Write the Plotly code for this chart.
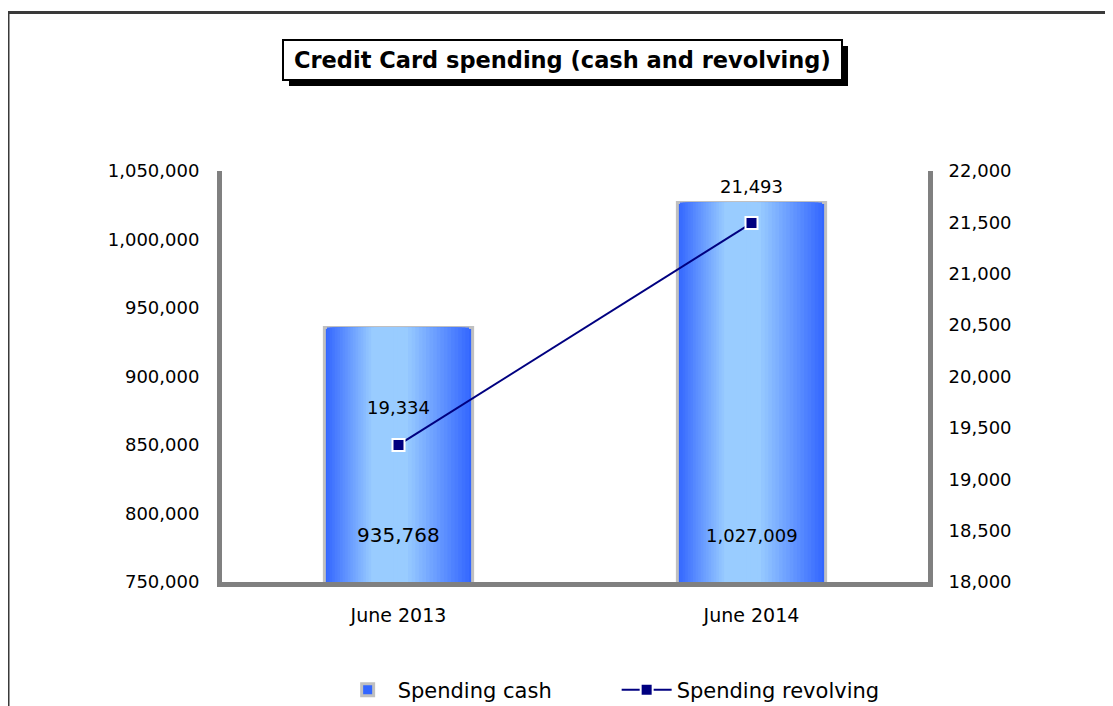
import plotly.graph_objects as go

# ---- data ----
categories = ["June 2013", "June 2014"]
spending_cash = [935768, 1027009]
spending_revolving = [19334, 21493]
left_ticks = [750000, 800000, 850000, 900000, 950000, 1000000, 1050000]
right_ticks = [18000, 18500, 19000, 19500, 20000, 20500, 21000, 21500, 22000]
title_text = "Credit Card spending (cash and revolving)"

FONT = "DejaVu Sans"
EDGE = (51, 102, 255)
CENTER = (153, 204, 255)
BAR_W = 0.42
N_LAYERS = 24
LIGHT_POS = 0.42  # position of lightest band across the bar


def mix(a, b, t):
    return "rgb(%d,%d,%d)" % tuple(round(a[i] + (b[i] - a[i]) * t) for i in range(3))


fig = go.Figure()

# gradient bars: nested overlay bars from outer (dark) to inner (light)
for k in range(N_LAYERS):
    w = BAR_W * (1 - k / N_LAYERS)
    t = min(1.0, (k / N_LAYERS) / 0.75)
    off = -BAR_W / 2 + (BAR_W - w) * LIGHT_POS
    fig.add_trace(go.Bar(
        x=categories, y=spending_cash,
        width=[w] * len(categories), offset=[off] * len(categories),
        marker=dict(color=mix(EDGE, CENTER, t),
                    line=dict(color="#C0C0C0", width=3 if k == 0 else 0)),
        name="Spending cash", showlegend=(k == 0),
        hoverinfo="skip" if k else None,
        yaxis="y",
    ))

fig.add_trace(go.Scatter(
    x=categories, y=spending_revolving, mode="lines+markers",
    name="Spending revolving",
    line=dict(color="#000080", width=2),
    marker=dict(symbol="square", size=12, color="#000080",
                line=dict(color="white", width=2)),
    yaxis="y2",
))

annotations = []
# bar value labels near the base
bar_label_sizes = [20, 18]
for c, v, s in zip(categories, spending_cash, bar_label_sizes):
    annotations.append(dict(x=c, y=left_ticks[0], xref="x", yref="y",
                            text=f"{v:,}", showarrow=False, yanchor="middle",
                            yshift=47, font=dict(family=FONT, size=s, color="black")))
# line value labels above points
for c, v in zip(categories, spending_revolving):
    annotations.append(dict(x=c, y=v, xref="x", yref="y2",
                            text=f"{v:,}", showarrow=False, yanchor="middle",
                            yshift=37, font=dict(family=FONT, size=18, color="black")))

# title text (box and shadow drawn as shapes)
annotations.append(dict(text=f"<b>{title_text}</b>", xref="paper", yref="paper",
                        x=0.4823, y=1.270, xanchor="center", yanchor="middle",
                        showarrow=False,
                        font=dict(family=FONT, size=22.5, color="black")))

shapes = [
    # outer chart border
    dict(type="rect", xref="paper", yref="paper",
         x0=-0.3031, x1=1.28, y0=-0.36, y1=1.3857,
         line=dict(color="#3a3a3a", width=3), fillcolor="rgba(0,0,0,0)",
         layer="below"),
    # title shadow
    dict(type="rect", xref="paper", yref="paper",
         x0=0.0949, x1=0.8867, y0=1.2068, y1=1.3041,
         line=dict(color="black", width=0), fillcolor="black"),
    # title box
    dict(type="rect", xref="paper", yref="paper",
         x0=0.0864, x1=0.8782, y0=1.2214, y1=1.3187,
         line=dict(color="black", width=2), fillcolor="white"),
]

axis_common = dict(showgrid=False, zeroline=False, showline=True,
                   linecolor="#808080", linewidth=5, ticks="",
                   tickfont=dict(family=FONT, size=18, color="black"))

fig.update_layout(
    width=1105, height=698,
    margin=dict(l=214, r=185, t=163, b=124, autoexpand=False),
    paper_bgcolor="white", plot_bgcolor="white",
    barmode="overlay",
    font=dict(family=FONT, color="black"),
    xaxis=dict(type="category", tickfont=dict(family=FONT, size=19, color="black"),
               showline=True, linecolor="#808080", linewidth=5, showgrid=False,
               ticks="", ticklabelstandoff=12),
    yaxis=dict(range=[left_ticks[0], left_ticks[-1]], tickvals=left_ticks,
               tickformat=",", ticklabelstandoff=14, **axis_common),
    yaxis2=dict(range=[right_ticks[0], right_ticks[-1]], tickvals=right_ticks,
                tickformat=",", overlaying="y", side="right",
                ticklabelstandoff=12, **axis_common),
    legend=dict(orientation="h", x=0.559, xanchor="center", y=-0.263,
                yanchor="middle", font=dict(family=FONT, size=21, color="black"),
                itemwidth=50, entrywidth=214, bgcolor="rgba(0,0,0,0)"),
    annotations=annotations,
    shapes=shapes,
    showlegend=True,
)

fig.write_html("out.html")
